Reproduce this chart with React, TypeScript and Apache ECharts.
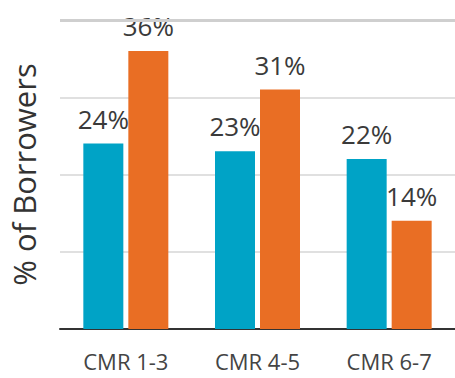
import React, { useEffect, useRef } from "react";
import * as echarts from "echarts";

const categories = ["CMR 1-3", "CMR 4-5", "CMR 6-7"];
const blueValues = [24, 23, 22];
const orangeValues = [36, 31, 14];
const yTicks = [0, 10, 20, 30, 40];

export default function App() {
  const ref = useRef<HTMLDivElement>(null);
  useEffect(() => {
    if (!ref.current) return;
    const chart = echarts.init(ref.current, null, { renderer: "svg" });
    const labelStyle = {
      show: true,
      position: "top" as const,
      distance: 12,
      formatter: (p: any) => p.value + "%",
      fontFamily: "Open Sans",
      fontSize: 26,
      color: "#3a3a3a",
    };
    chart.setOption({
      animation: false,
      grid: { left: 59, right: 0, top: 20, bottom: 49 },
      xAxis: {
        type: "category",
        data: categories,
        axisLine: { lineStyle: { color: "#333", width: 2 } },
        axisTick: { show: false },
        axisLabel: {
          fontFamily: "Open Sans",
          fontSize: 22,
          color: "#444",
          margin: 21,
        },
      },
      yAxis: {
        type: "value",
        min: yTicks[0],
        max: yTicks[yTicks.length - 1],
        interval: 10,
        axisLabel: { show: false },
        axisLine: { show: false },
        axisTick: { show: false },
        splitLine: { lineStyle: { color: "#d6d6d6", width: 1.5 } },
        name: "% of Borrowers",
        nameLocation: "middle",
        nameGap: 21,
        nameTextStyle: { fontFamily: "Open Sans", fontSize: 31, color: "#333" },
      },
      series: [
        {
          type: "bar",
          data: blueValues,
          barWidth: 40,
          barGap: "12.5%",
          itemStyle: { color: "#00A3C6" },
          label: labelStyle,
          markLine: {
            silent: true,
            symbol: "none",
            label: { show: false },
            lineStyle: { color: "#cfcfcf", width: 3, type: "solid" },
            data: [{ yAxis: yTicks[yTicks.length - 1] }],
          },
        },
        {
          type: "bar",
          data: orangeValues,
          barWidth: 40,
          barGap: "12.5%",
          itemStyle: { color: "#E96E24" },
          label: labelStyle,
        },
      ],
    });
    return () => chart.dispose();
  }, []);
  return (
    <div
      ref={ref}
      style={{ position: "fixed", left: 0, top: 0, width: 455, height: 378, background: "#fff" }}
    />
  );
}
